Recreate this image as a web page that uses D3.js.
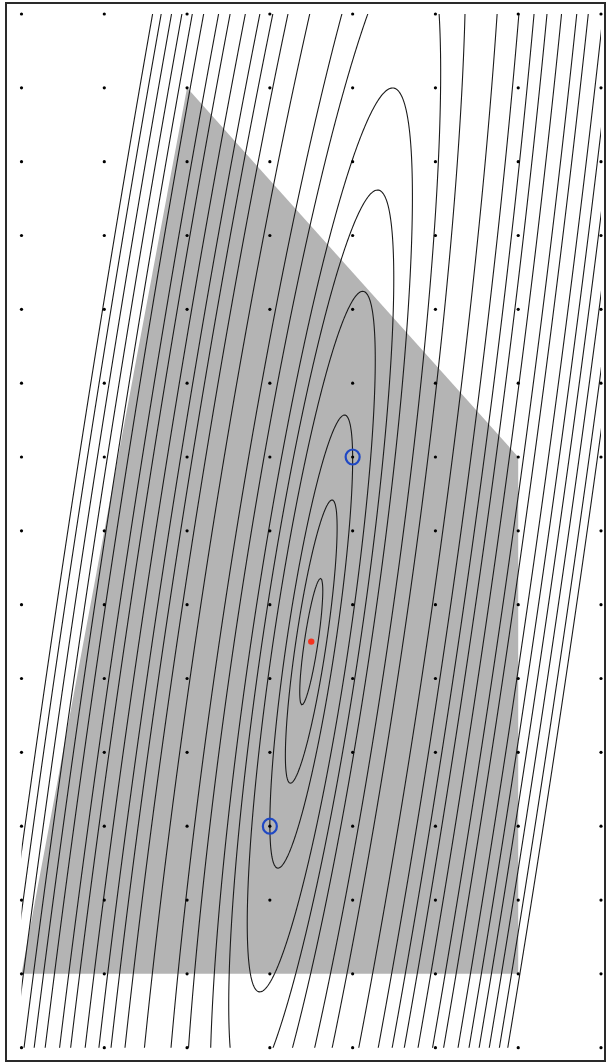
<!DOCTYPE html>
<html>
<head>
<meta charset="utf-8">
<script src="https://cdn.jsdelivr.net/npm/d3@7"></script>
<style>
  html, body { margin: 0; padding: 0; background: #fff; }
  svg { display: block; }
</style>
</head>
<body>
<svg id="chart"></svg>
<script>
const WIDTH = 607;
const HEIGHT = 1064;

// Integer lattice shown as dots.
const latticeX = [0, 1, 2, 3, 4, 5, 6, 7];
const latticeY = [0, 1, 2, 3, 4, 5, 6, 7, 8, 9, 10, 11, 12, 13, 14];

// Feasible polygon (grey).
const feasibleRegion = [[0, 1], [6, 1], [6, 8], [2, 13]];

// Continuous minimiser (red) and the two marked lattice points (blue).
const continuousOptimum = [3.5, 5.5];
const markedPoints = [[4, 8], [3, 3]];

// Shape of the quadratic: tilt of the long axis
// (dx per dy) and squared ratio of short to long axis.
const tilt = 0.131;
const flatness = 0.0094;

// Half-widths of each contour along the horizontal line through the
// minimiser, in lattice units.
const levelHalfWidths = [0.083, 0.186, 0.2975, 0.46, 0.593, 0.727, 0.93, 1.11, 1.4,
  1.62, 1.78, 1.92, 2.08, 2.25, 2.38, 2.55, 2.68, 2.8, 2.92, 3.04, 3.14];

const x = d3.scaleLinear().domain([0, 7]).range([21.5, 601]);
const y = d3.scaleLinear().domain([0, 14]).range([1047.7, 14]);

const svg = d3.select('#chart').attr('width', WIDTH).attr('height', HEIGHT);

svg.append('defs')
  .append('clipPath')
  .attr('id', 'plot-clip')
  .append('rect')
  .attr('x', x(0))
  .attr('y', y(14))
  .attr('width', x(7) - x(0))
  .attr('height', y(0) - y(14));

// Grey feasible region.
svg.append('path')
  .attr('d', d3.line().x((d) => x(d[0])).y((d) => y(d[1])).curve(d3.curveLinearClosed)(feasibleRegion))
  .attr('fill', '#b4b4b4');

// Sample the objective on a grid a bit larger than the plot, then clip.
function objective(px, py) {
  const dx = px - continuousOptimum[0];
  const dy = py - continuousOptimum[1];
  const u = dx - tilt * dy;
  return u * u + flatness * dy * dy;
}

const gx0 = -0.5, gy0 = -0.5, sx = 0.015, sy = 0.025;
const nx = 535, ny = 601;
const values = new Float64Array(nx * ny);
for (let j = 0; j < ny; j++) {
  for (let i = 0; i < nx; i++) {
    values[j * nx + i] = -objective(gx0 + i * sx, gy0 + j * sy);
  }
}

const contours = d3.contours()
  .size([nx, ny])
  .thresholds(levelHalfWidths.map((w) => -w * w))(values);

const gridToScreen = d3.geoTransform({
  point(u, v) {
    this.stream.point(x(gx0 + (u - 0.5) * sx), y(gy0 + (v - 0.5) * sy));
  },
});

svg.append('g')
  .attr('clip-path', 'url(#plot-clip)')
  .attr('fill', 'none')
  .attr('stroke', '#1b1b1b')
  .attr('stroke-width', 1.1)
  .selectAll('path')
  .data(contours)
  .join('path')
  .attr('d', d3.geoPath(gridToScreen));

// Lattice dots.
svg.append('g')
  .attr('fill', '#000')
  .selectAll('circle')
  .data(d3.cross(latticeX, latticeY))
  .join('circle')
  .attr('cx', (d) => x(d[0]))
  .attr('cy', (d) => y(d[1]))
  .attr('r', 1.6);

svg.append('circle')
  .attr('cx', x(continuousOptimum[0]))
  .attr('cy', y(continuousOptimum[1]))
  .attr('r', 3.2)
  .attr('fill', '#f5321e');

svg.append('g')
  .attr('fill', 'none')
  .attr('stroke', '#1f48c4')
  .attr('stroke-width', 2.2)
  .selectAll('ellipse')
  .data(markedPoints)
  .join('ellipse')
  .attr('cx', (d) => x(d[0]))
  .attr('cy', (d) => y(d[1]))
  .attr('rx', 7)
  .attr('ry', 7.5);

// Frame.
svg.append('rect')
  .attr('x', 6)
  .attr('y', 3)
  .attr('width', 599)
  .attr('height', 1058)
  .attr('fill', 'none')
  .attr('stroke', '#2a2a2a')
  .attr('stroke-width', 2);
</script>
</body>
</html>
